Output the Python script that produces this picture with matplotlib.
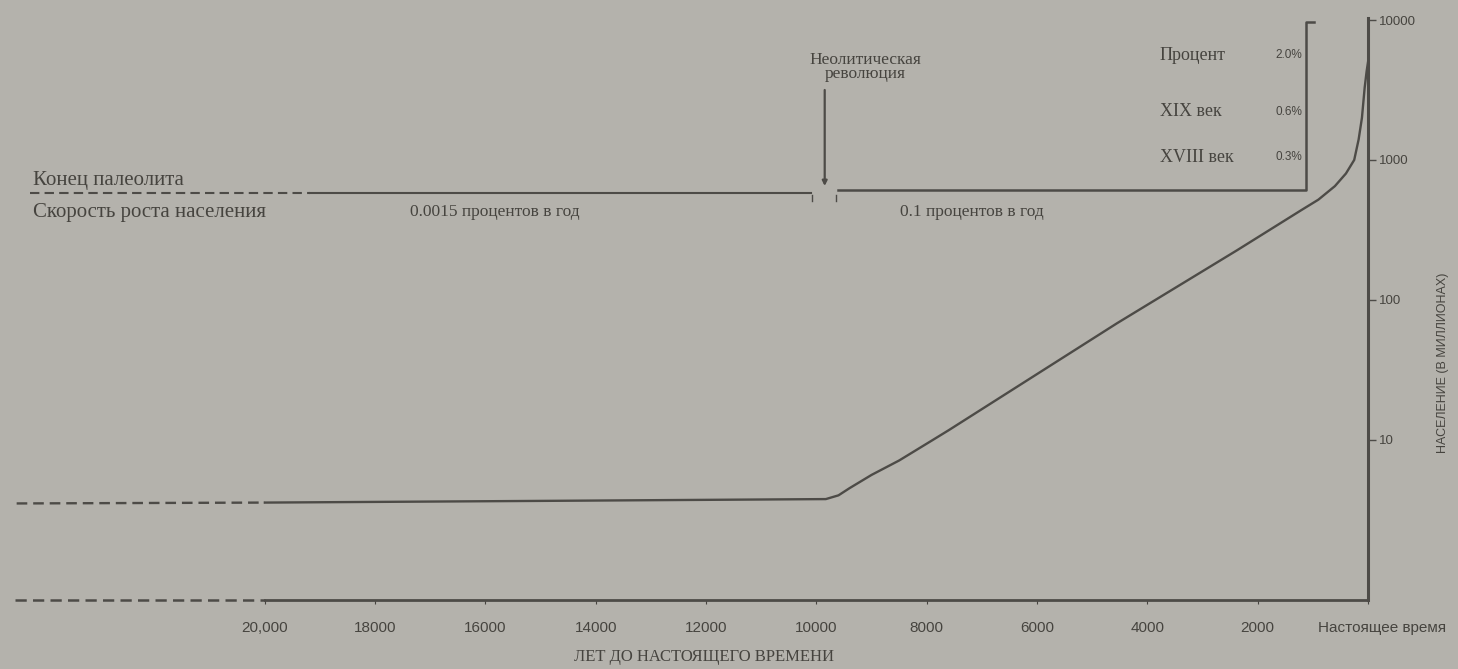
import matplotlib
matplotlib.use("Agg")
import matplotlib.pyplot as plt
from matplotlib.ticker import FixedLocator, FixedFormatter, NullLocator
from matplotlib.transforms import ScaledTranslation

# World population (millions) against years before present
years_bp = [24500, 20000, 15000, 9830, 9600, 9400, 9000, 8500, 7900, 7600,
            4550, 2375, 1200, 900, 600, 400, 250, 170, 110, 60, 25, 0]
population = [3.5, 3.55, 3.65, 3.76, 4.0, 4.5, 5.6, 7.1, 9.9, 11.7,
              68, 226, 440, 520, 650, 800, 1000, 1400, 2000, 3300, 4300, 5000]
dashed_before = 20000          # the older part of the record is drawn dashed

x_ticks = [20000, 18000, 16000, 14000, 12000, 10000, 8000, 6000, 4000, 2000, 0]
x_tick_labels = ["20,000", "18000", "16000", "14000", "12000", "10000",
                 "8000", "6000", "4000", "2000", "Настоящее время"]
y_ticks = [10, 100, 1000, 10000]
y_tick_labels = ["10", "100", "1000", "10000"]

growth_rows = [("Процент", "2.0%"), ("XIX век", "0.6%"), ("XVIII век", "0.3%")]
paleo_title = "Конец палеолита"
rate_title = "Скорость роста населения"
paleo_rate = "0.0015 процентов в год"
neo_rate = "0.1 процентов в год"
neolithic_label = "Неолитическая\nреволюция"
neolithic_year = 9850
x_title = "ЛЕТ ДО НАСТОЯЩЕГО ВРЕМЕНИ"
y_title = "НАСЕЛЕНИЕ (В МИЛЛИОНАХ)"

BG = "#b4b2ac"
INK = "#46443f"
LINE = "#4d4b47"
SERIF = ["Liberation Serif", "DejaVu Serif"]
SANS = ["Liberation Sans", "DejaVu Sans"]

W, H = 1458, 669
fig = plt.figure(figsize=(W / 100, H / 100), dpi=100)
fig.patch.set_facecolor(BG)
ax = fig.add_axes([15 / W, (H - 600) / H, 1353 / W, 582 / H])
ax.set_facecolor(BG)
ax.set_xlim(24530, 0)
ax.set_yscale("log")
ax.set_ylim(0.714, 10350)


def bp(px):
    """Horizontal page position -> years before present."""
    return (1368 - px) / 0.05515


def ay(py):
    """Vertical page position -> axes fraction."""
    return (600 - py) / 582


tx = ax.get_xaxis_transform()

# population curve
old = [i for i, y in enumerate(years_bp) if y >= dashed_before]
last_old = old[-1]
ax.plot(years_bp[:last_old + 1], population[:last_old + 1], color=LINE, lw=1.7,
        dashes=[4.5, 2.5], solid_capstyle="butt")
ax.plot(years_bp[last_old:], population[last_old:], color=LINE, lw=1.7,
        solid_joinstyle="round")

# baseline (dashed before 20 000 years)
ax.plot([24530, dashed_before], [0, 0], transform=tx, color=LINE, lw=1.8,
        dashes=[4.5, 2.5], clip_on=False)
ax.plot([dashed_before, 0], [0, 0], transform=tx, color=LINE, lw=2.0, clip_on=False)

for s in ("top", "left", "bottom"):
    ax.spines[s].set_visible(False)
ax.spines["right"].set_color(LINE)
ax.spines["right"].set_linewidth(2.2)

ax.xaxis.set_major_locator(FixedLocator(x_ticks))
ax.xaxis.set_major_formatter(FixedFormatter(x_tick_labels))
ax.tick_params(axis="x", direction="out", length=3, width=0.8, color=INK,
               pad=12, labelsize=11, labelcolor=INK)
xlabels = ax.get_xticklabels()
for lbl in xlabels:
    lbl.set_family(SANS)
xlabels[-1].set_transform(xlabels[-1].get_transform() +
                          ScaledTranslation(0.14, 0, fig.dpi_scale_trans))

ax.yaxis.set_ticks_position("right")
ax.yaxis.set_major_locator(FixedLocator(y_ticks))
ax.yaxis.set_major_formatter(FixedFormatter(y_tick_labels))
ax.yaxis.set_minor_locator(NullLocator())
ax.tick_params(axis="y", direction="out", length=6, width=1.0, color=LINE,
               pad=2, labelsize=9.5, labelcolor=INK)
for lbl in ax.get_yticklabels():
    lbl.set_family(SANS)

ax.text(bp(704), ay(657), x_title, transform=tx, ha="center", va="center",
        fontsize=12, color=INK, family=SERIF, clip_on=False)
ax.text(bp(1443), ay(363), y_title, transform=tx, ha="center", va="center",
        rotation=90, fontsize=9, color=INK, family=SANS, clip_on=False)

# growth-rate bracket line
ax.plot([bp(30), bp(310)], [ay(193), ay(193)], transform=tx, color=LINE,
        lw=1.5, dashes=[4.5, 2.5])
ax.plot([bp(310), bp(811)], [ay(193), ay(193)], transform=tx, color=LINE, lw=1.5)
ax.plot([bp(838), bp(1306), bp(1306), bp(1314)],
        [ay(190), ay(190), ay(22), ay(22)], transform=tx, color=LINE, lw=1.8)
for px in (812, 836):
    ax.plot([bp(px), bp(px)], [ay(195), ay(201)], transform=tx, color=LINE, lw=1.0)

ax.text(bp(33), ay(180), paleo_title, transform=tx, ha="left", va="center",
        fontsize=15, color=INK, family=SERIF)
ax.text(bp(33), ay(212), rate_title, transform=tx, ha="left", va="center",
        fontsize=15, color=INK, family=SERIF)
ax.text(bp(410), ay(212), paleo_rate, transform=tx, ha="left", va="center",
        fontsize=12.5, color=INK, family=SERIF)
ax.text(bp(900), ay(212), neo_rate, transform=tx, ha="left", va="center",
        fontsize=12.5, color=INK, family=SERIF)

# Neolithic revolution marker
ax.text(bp(865), ay(67), neolithic_label, transform=tx, ha="center", va="center",
        fontsize=12.5, color=INK, family=SERIF, linespacing=0.85)
ax.annotate("", xy=(neolithic_year, ay(186)), xytext=(neolithic_year, ay(90)),
            xycoords=tx, textcoords=tx,
            arrowprops=dict(arrowstyle="-|>", color=LINE, lw=1.6, mutation_scale=7,
                            shrinkA=0, shrinkB=0))

# recent growth rates
for (name, val), py in zip(growth_rows, (55, 112, 157)):
    ax.text(bp(1160), ay(py), name, transform=tx, ha="left", va="center",
            fontsize=13, color=INK, family=SERIF)
    ax.text(bp(1302), ay(py), val, transform=tx, ha="right", va="center",
            fontsize=8.5, color=INK, family=SANS)

fig.savefig("out.png", dpi=100, facecolor=BG)
